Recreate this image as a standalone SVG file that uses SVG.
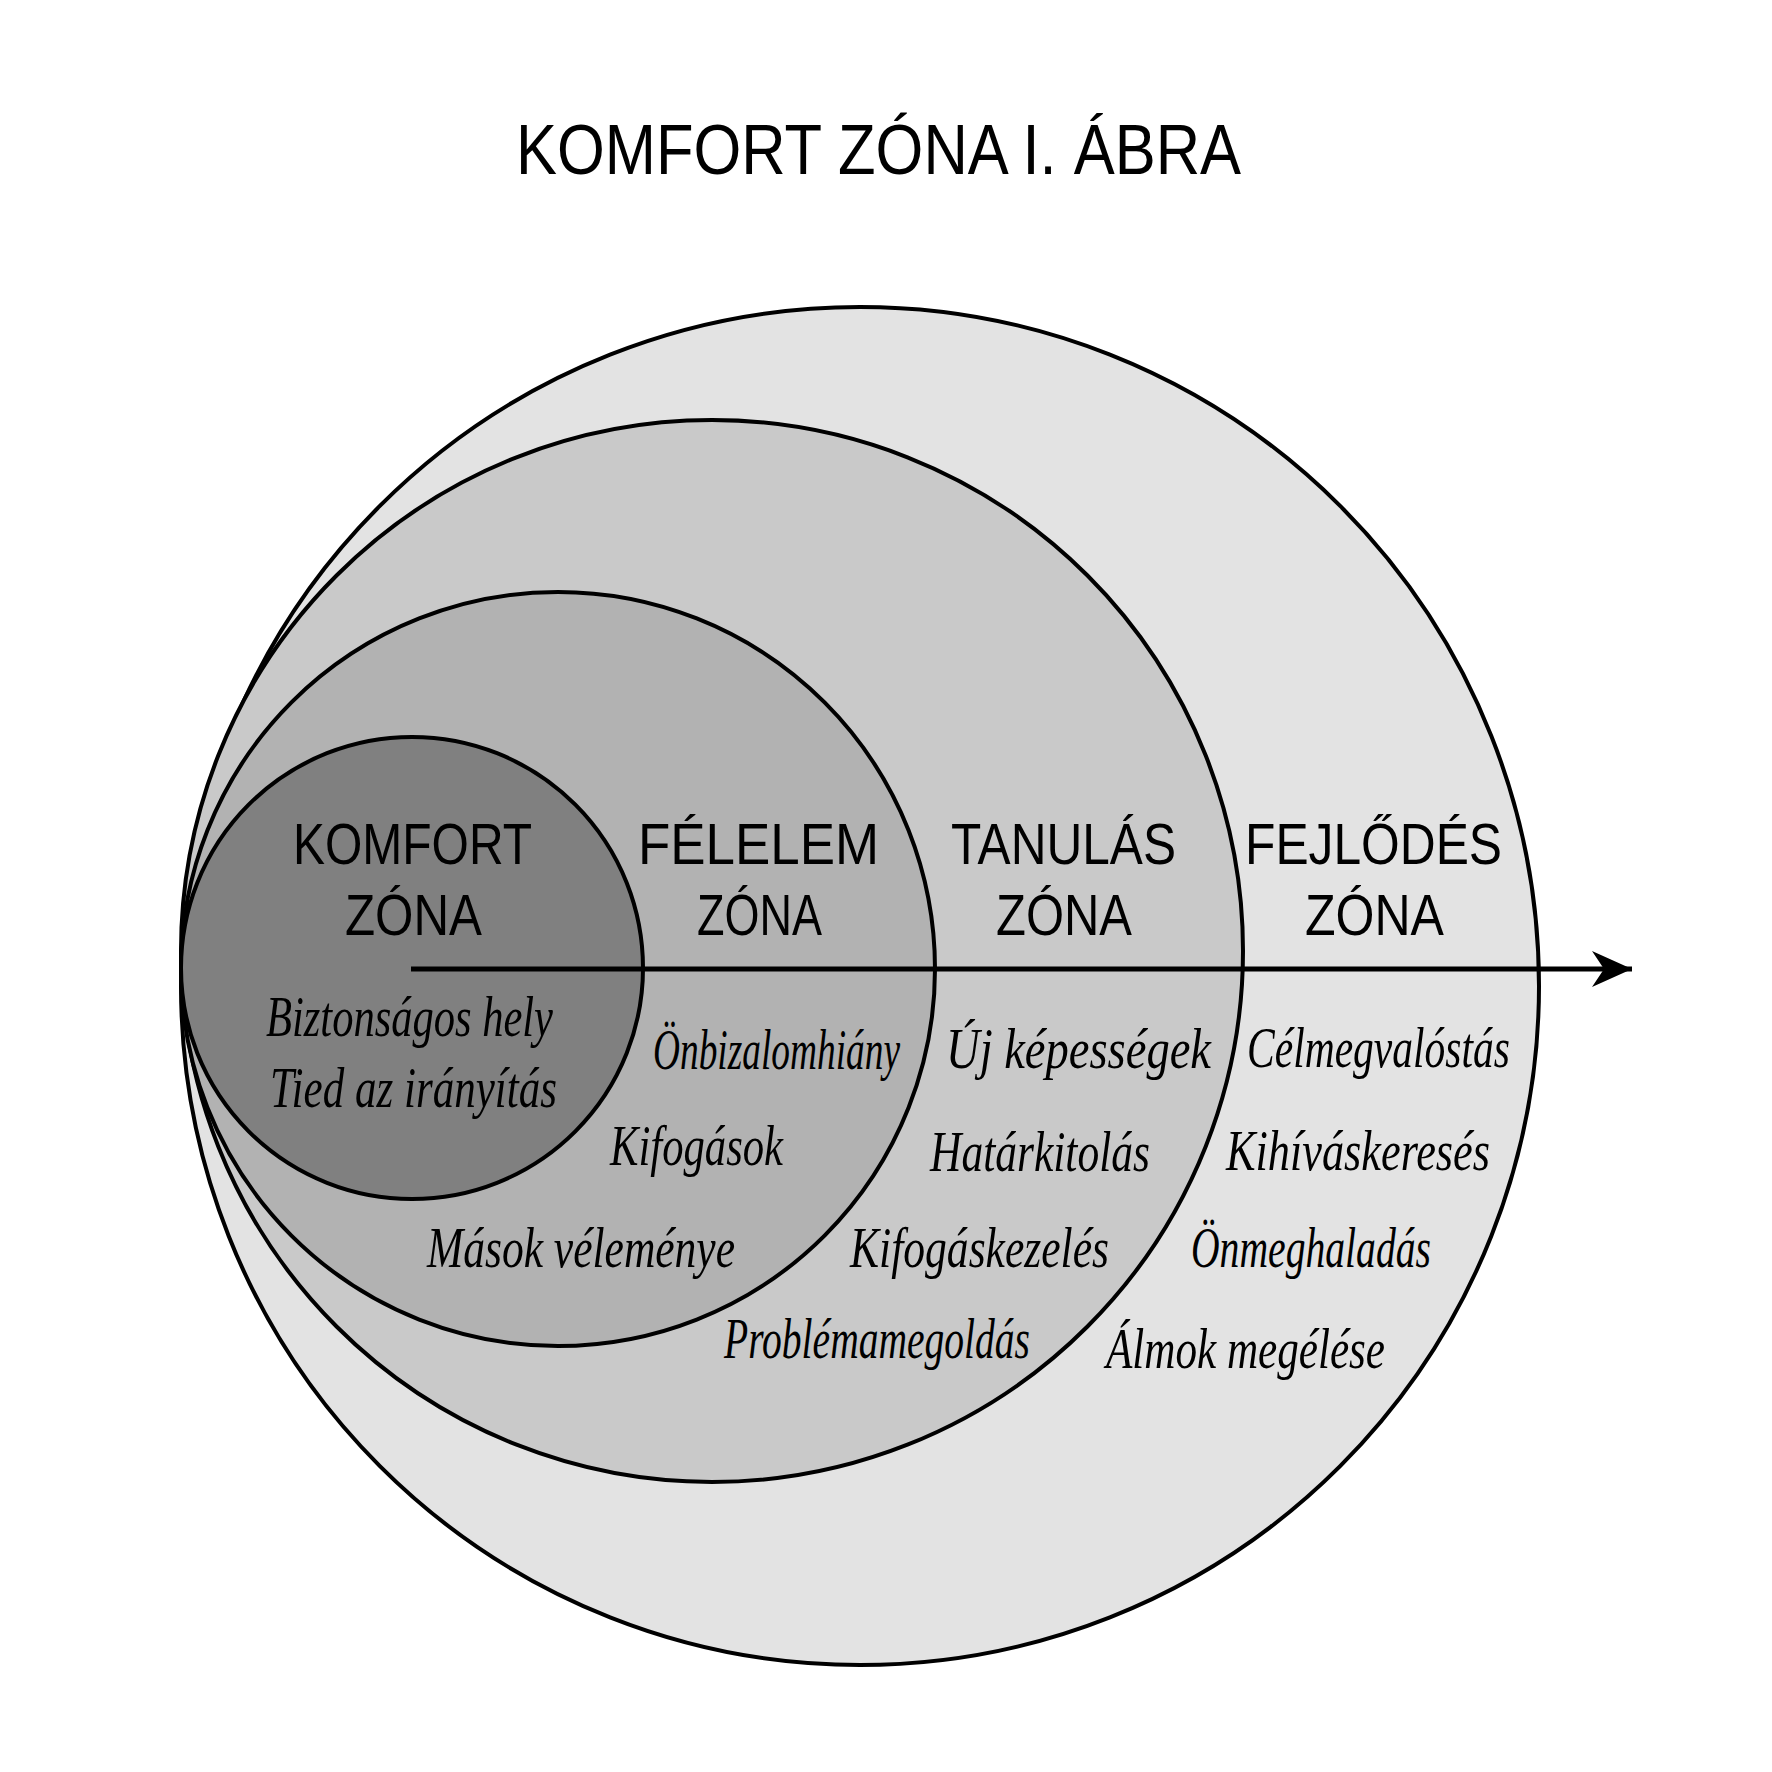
<svg xmlns="http://www.w3.org/2000/svg" width="1772" height="1772" viewBox="0 0 1772 1772">
  <style>
    .zone { stroke: #000; stroke-width: 4; }
    .title { font-family: "Liberation Sans", "DejaVu Sans", sans-serif; font-size: 70px; fill: #000; }
    .cap { font-family: "Liberation Sans", "DejaVu Sans", sans-serif; font-size: 58px; fill: #000; }
    .script { font-family: "Liberation Serif", "DejaVu Serif", serif; font-style: italic; font-size: 56px; fill: #000; }
    .conn { stroke: #000; stroke-width: 5; fill: none; }
  </style>
  <defs>
    <marker id="arrowhead" markerUnits="userSpaceOnUse" markerWidth="44" markerHeight="40" refX="40" refY="20" orient="auto">
      <path d="M40,20 L0,2 L12,20 L0,38 Z" fill="#000"/>
    </marker>
  </defs>
  <rect width="1772" height="1772" fill="#fff"/>

  <text class="title" x="516" y="174" textLength="725" lengthAdjust="spacingAndGlyphs">KOMFORT ZÓNA I. ÁBRA</text>

  <g id="fejlodes-zona">
    <circle class="zone" cx="860" cy="986" r="679" fill="#e3e3e3"/>
  </g>
  <g id="tanulas-zona">
    <circle class="zone" cx="712" cy="951" r="531" fill="#c9c9c9"/>
  </g>
  <g id="felelem-zona">
    <circle class="zone" cx="558" cy="969" r="377" fill="#b2b2b2"/>
  </g>
  <g id="komfort-zona">
    <circle class="zone" cx="412" cy="968" r="231" fill="#808080"/>
  </g>

  <g id="connectors">
    <line class="conn" x1="411" y1="969" x2="1632" y2="969" marker-end="url(#arrowhead)"/>
  </g>

  <g id="komfort-labels">
    <text class="cap" x="293" y="864" textLength="239" lengthAdjust="spacingAndGlyphs">KOMFORT</text>
    <text class="cap" x="345" y="935" textLength="137" lengthAdjust="spacingAndGlyphs">ZÓNA</text>
    <text class="script" x="266" y="1036" textLength="287" lengthAdjust="spacingAndGlyphs">Biztonságos hely</text>
    <text class="script" x="270" y="1107" textLength="287" lengthAdjust="spacingAndGlyphs">Tied az irányítás</text>
  </g>
  <g id="felelem-labels">
    <text class="cap" x="638" y="864" textLength="241" lengthAdjust="spacingAndGlyphs">FÉLELEM</text>
    <text class="cap" x="697" y="935" textLength="125" lengthAdjust="spacingAndGlyphs">ZÓNA</text>
    <text class="script" x="653" y="1069" textLength="247" lengthAdjust="spacingAndGlyphs">Önbizalomhiány</text>
    <text class="script" x="610" y="1165" textLength="173" lengthAdjust="spacingAndGlyphs">Kifogások</text>
    <text class="script" x="427" y="1267" textLength="308" lengthAdjust="spacingAndGlyphs">Mások véleménye</text>
  </g>
  <g id="tanulas-labels">
    <text class="cap" x="951" y="864" textLength="225" lengthAdjust="spacingAndGlyphs">TANULÁS</text>
    <text class="cap" x="996" y="935" textLength="136" lengthAdjust="spacingAndGlyphs">ZÓNA</text>
    <text class="script" x="946" y="1068" textLength="265" lengthAdjust="spacingAndGlyphs">Új képességek</text>
    <text class="script" x="930" y="1171" textLength="220" lengthAdjust="spacingAndGlyphs">Határkitolás</text>
    <text class="script" x="850" y="1267" textLength="259" lengthAdjust="spacingAndGlyphs">Kifogáskezelés</text>
    <text class="script" x="724" y="1358" textLength="306" lengthAdjust="spacingAndGlyphs">Problémamegoldás</text>
  </g>
  <g id="fejlodes-labels">
    <text class="cap" x="1245" y="864" textLength="257" lengthAdjust="spacingAndGlyphs">FEJLŐDÉS</text>
    <text class="cap" x="1305" y="935" textLength="139" lengthAdjust="spacingAndGlyphs">ZÓNA</text>
    <text class="script" x="1247" y="1067" textLength="263" lengthAdjust="spacingAndGlyphs">Célmegvalóstás</text>
    <text class="script" x="1226" y="1170" textLength="264" lengthAdjust="spacingAndGlyphs">Kihíváskeresés</text>
    <text class="script" x="1191" y="1267" textLength="240" lengthAdjust="spacingAndGlyphs">Önmeghaladás</text>
    <text class="script" x="1106" y="1368" textLength="279" lengthAdjust="spacingAndGlyphs">Álmok megélése</text>
  </g>
</svg>
